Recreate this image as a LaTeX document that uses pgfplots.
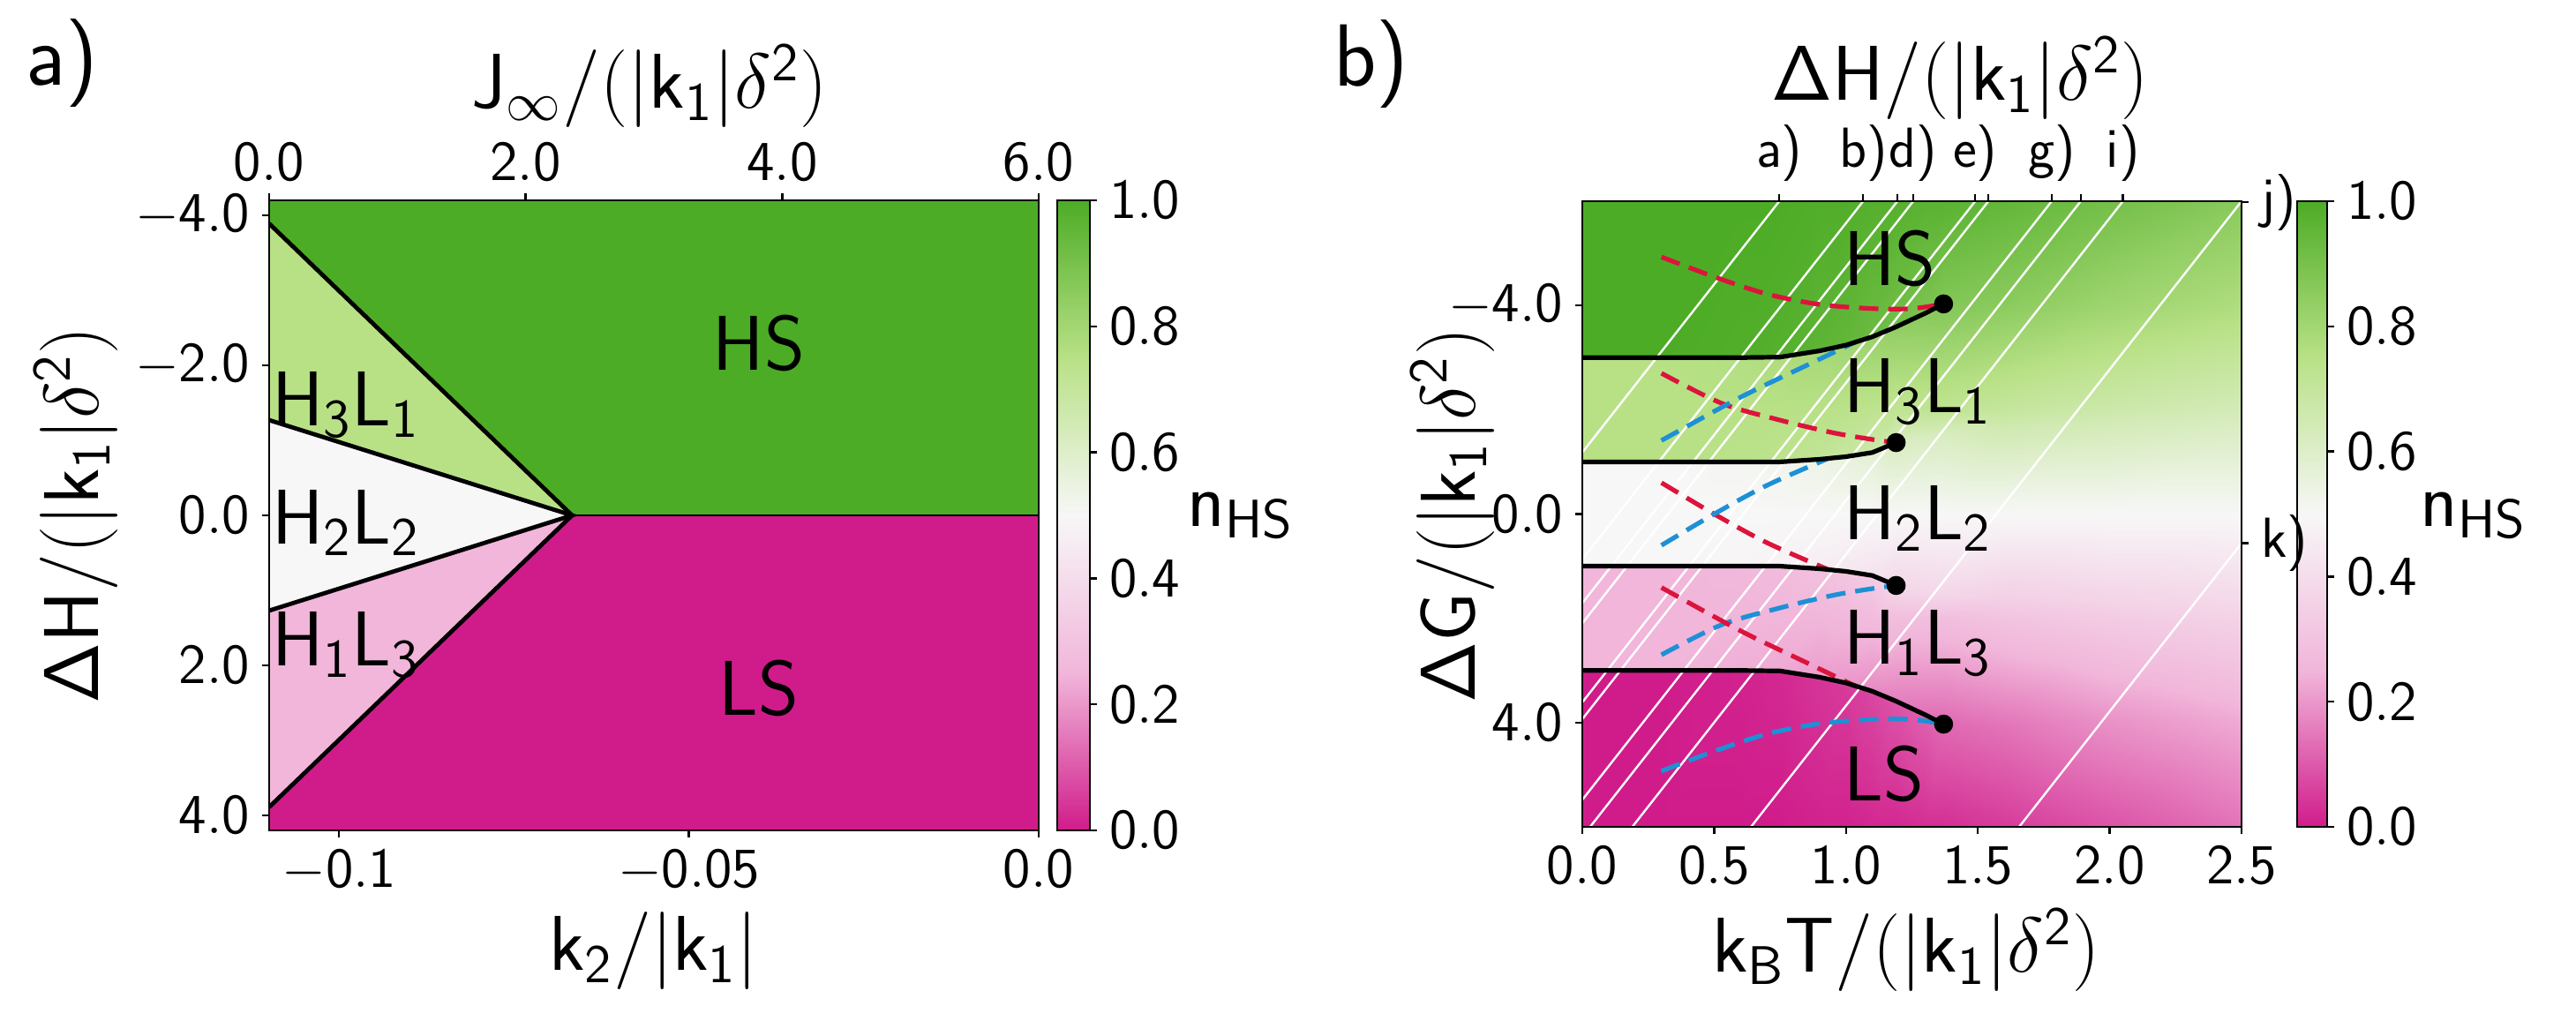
\RequirePackage{fix-cm}
\documentclass[border=0pt]{standalone}
\usepackage{pgfplots}
\pgfplotsset{compat=1.18}
\usepackage{pgfplotstable}
\renewcommand{\familydefault}{\sfdefault}
\definecolor{cHS}{RGB}{77,172,38}
\definecolor{cHc}{RGB}{184,225,134}
\definecolor{cHb}{RGB}{247,247,247}
\definecolor{cHa}{RGB}{241,182,218}
\definecolor{cLS}{RGB}{208,28,139}
\definecolor{dred}{RGB}{220,20,60}
\definecolor{dblue}{RGB}{30,144,214}
\pgfplotsset{colormap={piyg}{rgb255(0cm)=(208,28,139); rgb255(1cm)=(241,182,218); rgb255(2cm)=(247,247,247); rgb255(3cm)=(184,225,134); rgb255(4cm)=(77,172,38)}}
\newcommand{\tickfont}{\fontsize{16}{19}\selectfont}
\newcommand{\labfont}{\fontsize{22}{26}\selectfont}
\newcommand{\panfont}{\fontsize{25}{30}\selectfont}
\newcommand{\unitk}{(|\mathsf{k}_{\mathsf{1}}|\delta^{\mathsf{2}})}
\newcommand{\HL}[2]{$\mathsf{H}_{\mathsf{#1}}\mathsf{L}_{\mathsf{#2}}$}

\pgfplotstableread{
T G n
0 -6 1
0.3 -6 1
0.6 -6 1
0.75 -6 1
0.9 -6 0.99
1.0 -6 0.99
1.1 -6 0.98
1.19 -6 0.98
1.3 -6 0.97
1.37 -6 0.97
1.6 -6 0.95
2.0 -6 0.91
2.5 -6 0.86
0 -3.01 1
0.3 -3.01 1
0.6 -3.01 0.99
0.75 -3.02 0.98
0.9 -3.14 0.96
1.0 -3.25 0.95
1.1 -3.41 0.93
1.19 -3.60 0.91
1.3 -3.86 0.89
1.37 -4.04 0.875
1.6 -4.11 0.86
2.0 -4.01 0.81
2.5 -4.01 0.77
0 -2.99 0.75
0.3 -2.99 0.75
0.6 -2.99 0.76
0.75 -3.00 0.77
0.9 -3.12 0.79
1.0 -3.23 0.80
1.1 -3.39 0.82
1.19 -3.58 0.84
1.3 -3.84 0.86
1.37 -4.02 0.875
1.6 -4.09 0.86
2.0 -3.99 0.81
2.5 -3.99 0.77
0 -2 0.75
0.3 -2 0.75
0.6 -2 0.75
0.75 -2 0.75
0.9 -2 0.75
1.0 -2 0.74
1.1 -2 0.73
1.19 -2 0.72
1.3 -2 0.72
1.37 -2 0.72
1.6 -2 0.70
2.0 -2 0.67
2.5 -2 0.64
0 -1.01 0.75
0.3 -1.01 0.75
0.6 -1.01 0.74
0.75 -1.01 0.73
0.9 -1.06 0.71
1.0 -1.11 0.69
1.1 -1.19 0.67
1.19 -1.38 0.62
1.3 -1.46 0.62
1.37 -1.51 0.62
1.6 -1.61 0.65
2.0 -1.61 0.63
2.5 -1.61 0.61
0 -0.99 0.5
0.3 -0.99 0.5
0.6 -0.99 0.51
0.75 -0.99 0.52
0.9 -1.04 0.54
1.0 -1.09 0.56
1.1 -1.17 0.58
1.19 -1.36 0.62
1.3 -1.44 0.62
1.37 -1.49 0.62
1.6 -1.59 0.65
2.0 -1.59 0.63
2.5 -1.59 0.61
0 0 0.5
0.3 0 0.5
0.6 0 0.5
0.75 0 0.5
0.9 0 0.5
1.0 0 0.5
1.1 0 0.5
1.19 0 0.5
1.3 0 0.5
1.37 0 0.5
1.6 0 0.5
2.0 0 0.5
2.5 0 0.5
0 0.99 0.5
0.3 0.99 0.5
0.6 0.99 0.49
0.75 0.99 0.48
0.9 1.04 0.46
1.0 1.09 0.44
1.1 1.17 0.42
1.19 1.36 0.38
1.3 1.44 0.38
1.37 1.49 0.38
1.6 1.59 0.35
2.0 1.59 0.37
2.5 1.59 0.39
0 1.01 0.25
0.3 1.01 0.25
0.6 1.01 0.26
0.75 1.01 0.27
0.9 1.06 0.29
1.0 1.11 0.31
1.1 1.19 0.33
1.19 1.38 0.38
1.3 1.46 0.38
1.37 1.51 0.38
1.6 1.61 0.35
2.0 1.61 0.37
2.5 1.61 0.39
0 2 0.25
0.3 2 0.25
0.6 2 0.25
0.75 2 0.25
0.9 2 0.25
1.0 2 0.26
1.1 2 0.27
1.19 2 0.28
1.3 2 0.28
1.37 2 0.28
1.6 2 0.30
2.0 2 0.33
2.5 2 0.36
0 2.99 0.25
0.3 2.99 0.25
0.6 2.99 0.24
0.75 3.00 0.23
0.9 3.12 0.21
1.0 3.23 0.20
1.1 3.39 0.18
1.19 3.58 0.16
1.3 3.84 0.14
1.37 4.02 0.125
1.6 4.09 0.14
2.0 3.99 0.19
2.5 3.99 0.23
0 3.01 0
0.3 3.01 0
0.6 3.01 0.01
0.75 3.02 0.02
0.9 3.14 0.04
1.0 3.25 0.05
1.1 3.41 0.07
1.19 3.60 0.09
1.3 3.86 0.11
1.37 4.04 0.125
1.6 4.11 0.14
2.0 4.01 0.19
2.5 4.01 0.23
0 6 0
0.3 6 0
0.6 6 0
0.75 6 0
0.9 6 0.01
1.0 6 0.01
1.1 6 0.02
1.19 6 0.02
1.3 6 0.03
1.37 6 0.03
1.6 6 0.05
2.0 6 0.09
2.5 6 0.14
}\field

\pgfplotsset{
  common/.style={
    scale only axis, anchor=south west,
    tick align=outside, major tick length=2pt,
    tick label style={font=\tickfont},
    axis line style={line width=0.7pt},
    every tick/.append style={line width=0.6pt, black},
  },
}

\begin{document}
\begin{tikzpicture}
%================ Panel a ================
\begin{axis}[common,
  at={(76.25pt,58.25pt)}, width=218pt, height=178.5pt,
  xmin=-0.11, xmax=0, ymin=-4.2, ymax=4.2, y dir=reverse,
  xtick={-0.1,-0.05,0}, xticklabels={$\mathsf{-0.1}$,$\mathsf{-0.05}$,$\mathsf{0.0}$},
  ytick={-4,-2,0,2,4},
  yticklabels={$\mathsf{-4.0}$,$\mathsf{-2.0}$,$\mathsf{0.0}$,$\mathsf{2.0}$,$\mathsf{4.0}$},
  xtick pos=left, ytick pos=left, axis on top,
  colormap name=piyg, point meta min=0, point meta max=1,
  colorbar, colorbar shift/.style={xshift=5.25pt},
  colorbar style={at={(parent axis.north east)}, anchor=north west,
    width=9.25pt, height=178.5pt, scale only axis,
    ytick={0,0.2,0.4,0.6,0.8,1},
    yticklabels={$\mathsf{0.0}$,$\mathsf{0.2}$,$\mathsf{0.4}$,$\mathsf{0.6}$,$\mathsf{0.8}$,$\mathsf{1.0}$},
    ytick pos=right, yticklabel pos=right, tick align=outside, major tick length=2pt,
    tick label style={font=\tickfont}, axis line style={line width=0.7pt}},
]
\addplot[draw=none, fill=cHS] coordinates {(-0.11,-4.2) (0,-4.2) (0,0) (-0.0667,0) (-0.11,-3.89)};
\addplot[draw=none, fill=cHc] coordinates {(-0.11,-3.89) (-0.0667,0) (-0.11,-1.27)};
\addplot[draw=none, fill=cHb] coordinates {(-0.11,-1.27) (-0.0667,0) (-0.11,1.27)};
\addplot[draw=none, fill=cHa] coordinates {(-0.11,1.27) (-0.0667,0) (-0.11,3.89)};
\addplot[draw=none, fill=cLS] coordinates {(-0.11,3.89) (-0.0667,0) (0,0) (0,4.2) (-0.11,4.2)};
\addplot[black, line width=1.2pt] coordinates {(-0.11,-3.89) (-0.0667,0) (-0.11,3.89)};
\addplot[black, line width=1.2pt] coordinates {(-0.11,-1.27) (-0.0667,0) (-0.11,1.27)};
\addplot[black, line width=0.5pt] coordinates {(-0.0667,0) (0,0)};
\node[font=\labfont, anchor=base] at (axis cs:-0.040,-1.94) {$\mathsf{HS}$};
\node[font=\labfont, anchor=base] at (axis cs:-0.040,2.66) {$\mathsf{LS}$};
\node[font=\labfont, anchor=base west, inner sep=0pt] at (axis cs:-0.1097,-1.2) {\HL{3}{1}};
\node[font=\labfont, anchor=base west, inner sep=0pt] at (axis cs:-0.1097,0.38) {\HL{2}{2}};
\node[font=\labfont, anchor=base west, inner sep=0pt] at (axis cs:-0.1097,2.0) {\HL{1}{3}};
\end{axis}
% top axis of panel a
\begin{axis}[common,
  at={(76.25pt,58.25pt)}, width=218pt, height=178.5pt,
  xmin=-0.11, xmax=0, ymin=0, ymax=1,
  axis x line*=top, axis y line=none,
  xtick={-0.11,-0.073333,-0.036667,0},
  xticklabels={$\mathsf{0.0}$,$\mathsf{2.0}$,$\mathsf{4.0}$,$\mathsf{6.0}$},
]
\end{axis}
%================ Panel b ================
\begin{axis}[
  at={(448.25pt,59.25pt)}, anchor=south west, width=186.75pt, height=177.25pt, scale only axis,
  view={0}{90}, xmin=0, xmax=2.5, ymin=-6, ymax=6, y dir=reverse, hide axis,
  colormap name=piyg, point meta min=0, point meta max=1,
]
\addplot3[surf, shader=interp, mesh/rows=13, mesh/cols=13, point meta=explicit]
  table[x=T, y=G, z=n, meta=n] {\field};
\end{axis}
\begin{axis}[common,
  at={(448.25pt,59.25pt)}, width=186.75pt, height=177.25pt,
  xmin=0, xmax=2.5, ymin=-6, ymax=6, y dir=reverse,
  xtick={0,0.5,1,1.5,2,2.5},
  xticklabels={$\mathsf{0.0}$,$\mathsf{0.5}$,$\mathsf{1.0}$,$\mathsf{1.5}$,$\mathsf{2.0}$,$\mathsf{2.5}$},
  ytick={-4,0,4}, yticklabels={$\mathsf{-4.0}$,$\mathsf{0.0}$,$\mathsf{4.0}$},
  xtick pos=left, ytick pos=left, axis on top,
  colormap name=piyg, point meta min=0, point meta max=1,
  colorbar, colorbar shift/.style={xshift=15.75pt},
  colorbar style={at={(parent axis.north east)}, anchor=north west,
    width=8.5pt, height=177.25pt, scale only axis,
    ytick={0,0.2,0.4,0.6,0.8,1},
    yticklabels={$\mathsf{0.0}$,$\mathsf{0.2}$,$\mathsf{0.4}$,$\mathsf{0.6}$,$\mathsf{0.8}$,$\mathsf{1.0}$},
    ytick pos=right, yticklabel pos=right, tick align=outside, major tick length=2pt,
    tick label style={font=\tickfont}, axis line style={line width=0.7pt}},
]
% constant Delta H lines
\addplot[white, line width=0.6pt] coordinates {(0.747,-6) (-1.1135,6)};
\addplot[white, line width=0.6pt] coordinates {(1.065,-6) (-0.7955,6)};
\addplot[white, line width=0.6pt] coordinates {(1.195,-6) (-0.6655,6)};
\addplot[white, line width=0.6pt] coordinates {(1.255,-6) (-0.6055,6)};
\addplot[white, line width=0.6pt] coordinates {(1.49,-6) (-0.3705,6)};
\addplot[white, line width=0.6pt] coordinates {(1.54,-6) (-0.3205,6)};
\addplot[white, line width=0.6pt] coordinates {(1.78,-6) (-0.0805,6)};
\addplot[white, line width=0.6pt] coordinates {(1.89,-6) (0.0295,6)};
\addplot[white, line width=0.6pt] coordinates {(2.05,-6) (0.1895,6)};
\addplot[white, line width=0.6pt] coordinates {(2.5,-6) (0.6395,6)};
\addplot[white, line width=0.6pt] coordinates {(3.517,-6) (1.6565,6)};
% dashed curves
\addplot[dred, line width=1.3pt, dash pattern=on 5.5pt off 2.8pt, smooth] coordinates {(0.30,-4.93) (0.50,-4.55) (0.70,-4.22) (0.90,-4.02) (1.10,-3.94) (1.25,-3.94) (1.37,-4.03)};
\addplot[dblue, line width=1.3pt, dash pattern=on 5.5pt off 2.8pt, smooth] coordinates {(0.30,4.93) (0.50,4.55) (0.70,4.22) (0.90,4.02) (1.10,3.94) (1.25,3.94) (1.37,4.03)};
\addplot[dred, line width=1.3pt, dash pattern=on 5.5pt off 2.8pt, smooth] coordinates {(0.30,-2.70) (0.53,-2.12) (0.75,-1.80) (0.95,-1.56) (1.10,-1.43) (1.19,-1.37)};
\addplot[dblue, line width=1.3pt, dash pattern=on 5.5pt off 2.8pt, smooth] coordinates {(0.30,2.70) (0.53,2.12) (0.75,1.80) (0.95,1.56) (1.10,1.43) (1.19,1.37)};
\addplot[dblue, line width=1.3pt, dash pattern=on 5.5pt off 2.8pt, smooth] coordinates {(0.30,-1.41) (0.60,-2.24) (0.85,-2.85) (1.04,-3.31)};
\addplot[dred, line width=1.3pt, dash pattern=on 5.5pt off 2.8pt, smooth] coordinates {(0.30,1.41) (0.60,2.24) (0.85,2.85) (1.04,3.31)};
\addplot[dred, line width=1.3pt, dash pattern=on 5.5pt off 2.8pt, smooth] coordinates {(0.30,-0.60) (0.50,0.00) (0.70,0.55) (0.93,1.06)};
\addplot[dblue, line width=1.3pt, dash pattern=on 5.5pt off 2.8pt, smooth] coordinates {(0.30,0.60) (0.50,0.00) (0.70,-0.55) (0.93,-1.06)};
% phase boundaries
\addplot[black, line width=1.3pt] coordinates {(0,-3.0) (0.3,-3.0) (0.6,-3.0) (0.75,-3.01) (0.9,-3.13) (1.0,-3.24) (1.1,-3.4) (1.19,-3.59) (1.3,-3.85) (1.37,-4.03)};
\addplot[black, line width=1.3pt] coordinates {(0,-1.0) (0.3,-1.0) (0.6,-1.0) (0.75,-1.0) (0.9,-1.05) (1.0,-1.1) (1.1,-1.18) (1.19,-1.37)};
\addplot[black, line width=1.3pt] coordinates {(0,1.0) (0.3,1.0) (0.6,1.0) (0.75,1.0) (0.9,1.05) (1.0,1.1) (1.1,1.18) (1.19,1.37)};
\addplot[black, line width=1.3pt] coordinates {(0,3.0) (0.3,3.0) (0.6,3.0) (0.75,3.01) (0.9,3.13) (1.0,3.24) (1.1,3.4) (1.19,3.59) (1.3,3.85) (1.37,4.03)};
\addplot[only marks, mark=*, mark size=2.5pt, black] coordinates {(1.37,-4.03) (1.19,-1.37) (1.19,1.37) (1.37,4.03)};
\node[font=\labfont, anchor=base west, inner sep=0pt] at (axis cs:0.99,-4.39) {$\mathsf{HS}$};
\node[font=\labfont, anchor=base west, inner sep=0pt] at (axis cs:0.99,-1.95) {\HL{3}{1}};
\node[font=\labfont, anchor=base west, inner sep=0pt] at (axis cs:0.99,0.49) {\HL{2}{2}};
\node[font=\labfont, anchor=base west, inner sep=0pt] at (axis cs:0.99,2.88) {\HL{1}{3}};
\node[font=\labfont, anchor=base west, inner sep=0pt] at (axis cs:0.99,5.5) {$\mathsf{LS}$};
\end{axis}
% top / right axis of panel b
\begin{axis}[common,
  at={(448.25pt,59.25pt)}, width=186.75pt, height=177.25pt,
  xmin=0, xmax=2.5, ymin=-6, ymax=6, y dir=reverse,
  axis x line*=top, axis y line*=right,
  xtick={0.747,1.065,1.195,1.255,1.49,1.54,1.78,1.89,2.05},
  xticklabels={a),b),{},d),e),{},g),{},i)},
  ytick={-5.98,0.56}, yticklabels={j),k)},
]
\end{axis}
%================ texts ================
\node[font=\panfont, anchor=base] at (17.5pt,269.25pt) {a)};
\node[font=\panfont, anchor=base] at (388.5pt,269pt) {b)};
\node[font=\labfont, anchor=base] at (184pt,262.75pt) {$\mathsf{J}_{\infty}/\unitk$};
\node[font=\labfont, anchor=base] at (555.25pt,265pt) {$\mathsf{\Delta H}/\unitk$};
\node[font=\labfont, anchor=base] at (185.25pt,18.5pt) {$\mathsf{k}_{\mathsf{2}}/|\mathsf{k}_{\mathsf{1}}|$};
\node[font=\labfont, anchor=base] at (540pt,18pt) {$\mathsf{k}_{\mathsf{B}}\mathsf{T}/\unitk$};
\node[font=\labfont, rotate=90] at (21.5pt,147.5pt) {$\mathsf{\Delta H}/\unitk$};
\node[font=\labfont, rotate=90] at (411.5pt,147.5pt) {$\mathsf{\Delta G}/\unitk$};
\node[font=\labfont, anchor=west, inner sep=0pt] at (336.25pt,147.5pt) {$\mathsf{n}_{\mathsf{HS}}$};
\node[font=\labfont, anchor=west, inner sep=0pt] at (685.5pt,147.5pt) {$\mathsf{n}_{\mathsf{HS}}$};
\pgfresetboundingbox
\path[use as bounding box] (0,0) rectangle (729.75pt,293.5pt);
\end{tikzpicture}
\end{document}
